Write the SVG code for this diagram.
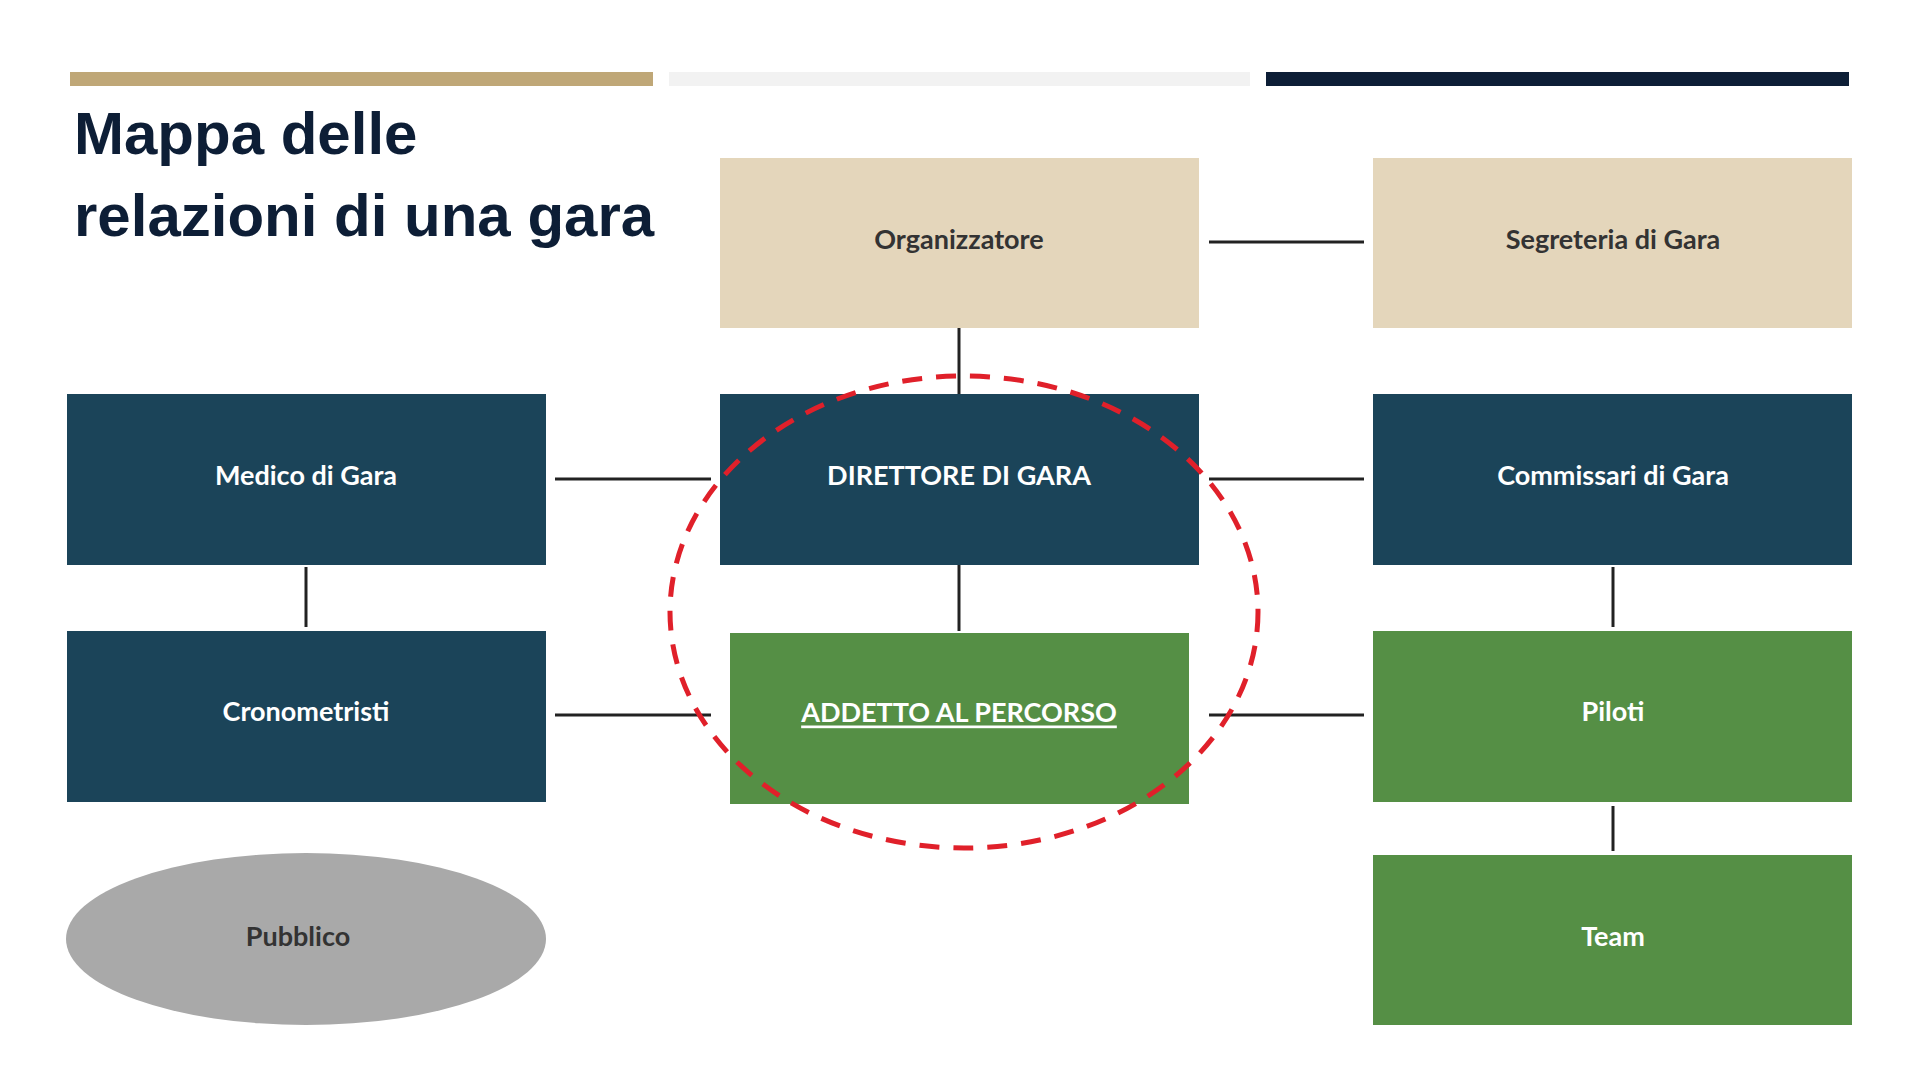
<svg xmlns="http://www.w3.org/2000/svg" width="1920" height="1080" viewBox="0 0 1920 1080">
<style>
.t{font-family:Lato,"Open Sans",sans-serif;font-weight:bold;font-size:27px;text-anchor:middle;dominant-baseline:central}
.beige{fill:#E4D6BB}.navy{fill:#1B4459}.green{fill:#558F45}
.dk{fill:#333}.wh{fill:#fff}
.c{stroke:#222;stroke-width:3;fill:none}
</style>
<rect width="1920" height="1080" fill="#fff"/>
<rect x="70" y="72" width="583" height="14" fill="#BFA777"/>
<rect x="669" y="72" width="581" height="14" fill="#F2F2F2"/>
<rect x="1266" y="72" width="583" height="14" fill="#0D1E36"/>
<text font-family="Liberation Sans,Arial,sans-serif" font-weight="bold" font-size="60" fill="#0D1E36"><tspan x="74" y="154">Mappa delle</tspan><tspan x="74" y="236">relazioni di una gara</tspan></text>
<g id="connectors">
<line class="c" x1="1209" y1="242" x2="1364" y2="242"/>
<line class="c" x1="959" y1="328" x2="959" y2="394" stroke="#999"/>
<line class="c" x1="555" y1="479" x2="711" y2="479"/>
<line class="c" x1="1209" y1="479" x2="1364" y2="479"/>
<line class="c" x1="306" y1="567" x2="306" y2="627"/>
<line class="c" x1="959" y1="565" x2="959" y2="631"/>
<line class="c" x1="555" y1="715" x2="711" y2="715"/>
<line class="c" x1="1209" y1="715" x2="1364" y2="715"/>
<line class="c" x1="1613" y1="567" x2="1613" y2="627"/>
<line class="c" x1="1613" y1="806" x2="1613" y2="851"/>
</g>
<g id="organizzatore"><rect class="beige" x="720" y="158" width="479" height="170"/><text class="t dk" x="959" y="238">Organizzatore</text></g>
<g id="segreteria"><rect class="beige" x="1373" y="158" width="479" height="170"/><text class="t dk" x="1613" y="238">Segreteria di Gara</text></g>
<g id="medico"><rect class="navy" x="67" y="394" width="479" height="171"/><text class="t wh" x="306" y="474">Medico di Gara</text></g>
<g id="direttore"><rect class="navy" x="720" y="394" width="479" height="171"/><text class="t wh" x="959" y="474">DIRETTORE DI GARA</text></g>
<g id="commissari"><rect class="navy" x="1373" y="394" width="479" height="171"/><text class="t wh" x="1613" y="474">Commissari di Gara</text></g>
<g id="cronometristi"><rect class="navy" x="67" y="631" width="479" height="171"/><text class="t wh" x="306" y="710">Cronometristi</text></g>
<g id="addetto"><rect class="green" x="730" y="633" width="459" height="171"/><text class="t wh" x="959" y="711" font-size="30" text-decoration="underline">ADDETTO AL PERCORSO</text></g>
<g id="piloti"><rect class="green" x="1373" y="631" width="479" height="171"/><text class="t wh" x="1613" y="710">Piloti</text></g>
<g id="team"><rect class="green" x="1373" y="855" width="479" height="170"/><text class="t wh" x="1613" y="935">Team</text></g>
<g id="pubblico"><ellipse cx="306" cy="939" rx="240" ry="86" fill="#A9A9A9"/><text class="t dk" x="298" y="935">Pubblico</text></g>
<ellipse id="highlight" cx="964" cy="612" rx="294" ry="236" fill="none" stroke="#E0202A" stroke-width="5" stroke-dasharray="20 14"/>
</svg>
